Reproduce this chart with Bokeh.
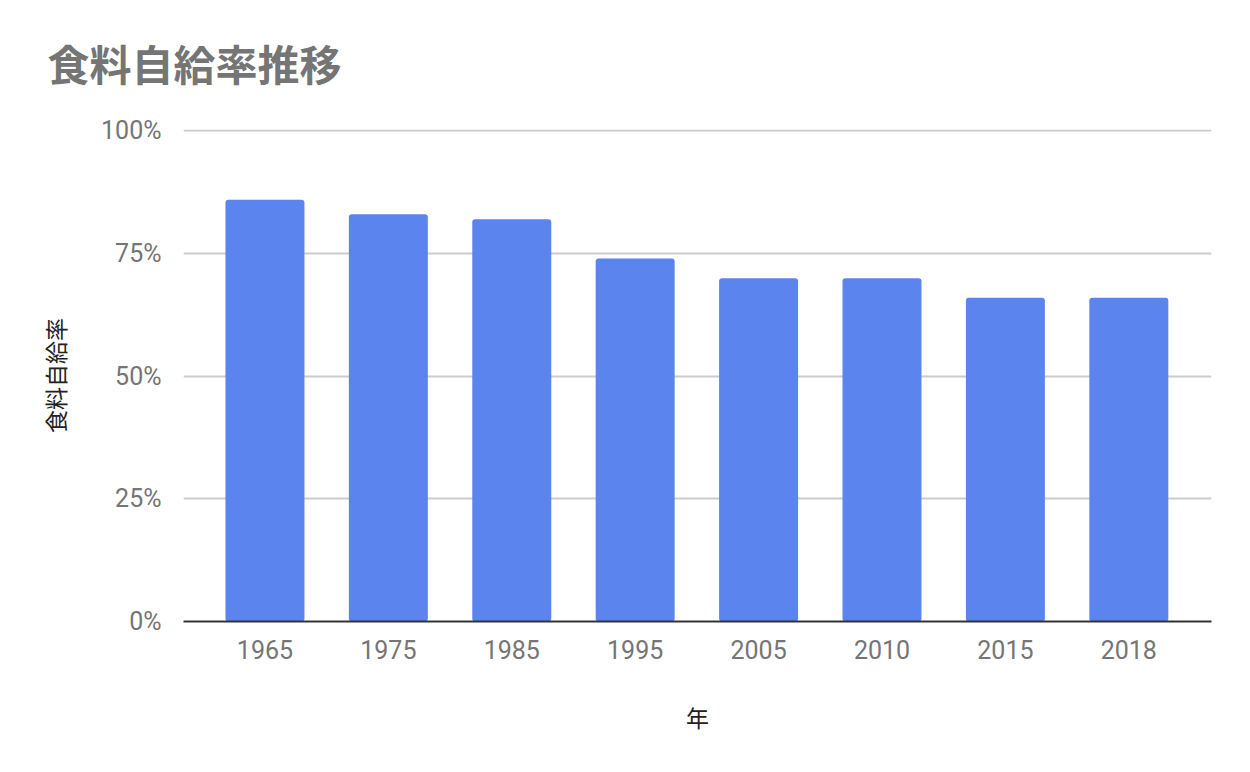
from bokeh.plotting import figure
from bokeh.models import ColumnDataSource, FixedTicker, NumeralTickFormatter, Range1d, Title
from bokeh.embed import file_html
from bokeh.resources import INLINE

years = ["1965", "1975", "1985", "1995", "2005", "2010", "2015", "2018"]
rates = [0.86, 0.83, 0.82, 0.74, 0.70, 0.70, 0.66, 0.66]
y_ticks = [0, 0.25, 0.5, 0.75, 1.0]

idx = list(range(len(years)))
src = ColumnDataSource(dict(x=idx, top=rates, year=years))

p = figure(width=1242, height=764, output_backend="svg", toolbar_location=None,
           x_range=Range1d(-0.66, len(years) - 1 + 0.67), y_range=Range1d(0, 1.003),
           min_border_left=183, min_border_right=31, min_border_top=129, min_border_bottom=143)
p.outline_line_color = None
p.background_fill_color = "white"
p.border_fill_color = "white"

p.vbar(x="x", top="top", width=0.64, source=src, fill_color="#5b84ef", line_color=None,
       border_radius=3)

p.add_layout(Title(text="食料自給率推移", text_font="Roboto, Noto Sans CJK JP", text_font_size="42px",
                   text_font_style="bold", text_color="#757575", align="left", offset=-136,
                   standoff=77), "above")

p.xaxis.ticker = FixedTicker(ticks=idx)
p.xaxis.major_label_overrides = {i: y for i, y in zip(idx, years)}
p.xaxis.major_label_text_font = "Roboto"
p.xaxis.major_label_text_font_size = "25px"
p.xaxis.major_label_text_color = "#757575"
p.xaxis.major_label_standoff = 12
p.xaxis.major_tick_line_color = None
p.xaxis.minor_tick_line_color = None
p.xaxis.axis_line_color = "#333333"
p.xaxis.axis_line_width = 2
p.xaxis.axis_label = "年"
p.xaxis.axis_label_text_font = "Noto Sans CJK JP"
p.xaxis.axis_label_text_font_size = "23px"
p.xaxis.axis_label_text_font_style = "normal"
p.xaxis.axis_label_text_color = "#222222"
p.xaxis.axis_label_standoff = 38

p.yaxis.ticker = FixedTicker(ticks=y_ticks)
p.yaxis.formatter = NumeralTickFormatter(format="0%")
p.yaxis.major_label_text_font = "Roboto"
p.yaxis.major_label_text_font_size = "25px"
p.yaxis.major_label_text_color = "#757575"
p.yaxis.major_label_standoff = 16
p.yaxis.major_tick_line_color = None
p.yaxis.minor_tick_line_color = None
p.yaxis.axis_line_color = None
p.yaxis.axis_label = "食料自給率"
p.yaxis.axis_label_text_font = "Noto Sans CJK JP"
p.yaxis.axis_label_text_font_size = "23px"
p.yaxis.axis_label_text_font_style = "normal"
p.yaxis.axis_label_text_color = "#222222"
p.yaxis.axis_label_standoff = 26

p.xgrid.grid_line_color = None
p.ygrid.ticker = FixedTicker(ticks=y_ticks[1:])
p.ygrid.grid_line_color = "#cccccc"
p.ygrid.grid_line_width = 2

open("out.html", "w").write(file_html(p, INLINE))
